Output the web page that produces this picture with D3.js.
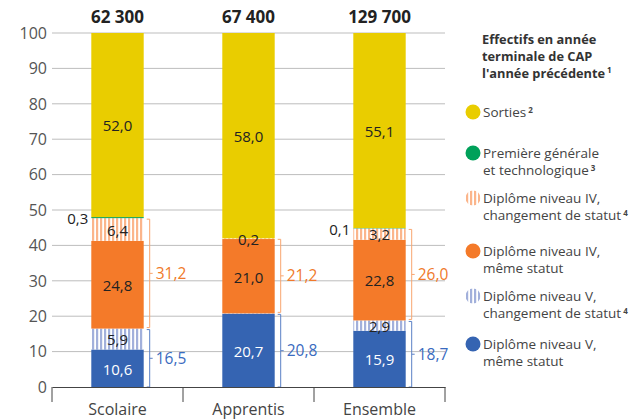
<!DOCTYPE html>
<html><head><meta charset="utf-8">
<script src="https://cdn.jsdelivr.net/npm/d3@7"></script>
<style>
html,body{margin:0;padding:0;background:#fff;}
svg{display:block;font-family:"Open Sans",sans-serif;}
</style></head>
<body><svg id="c" width="636" height="419"></svg>
<script>
// ---- data ----
const categories = ["Scolaire", "Apprentis", "Ensemble"];
const totals = ["62 300", "67 400", "129 700"];
const vMeme = [10.6, 20.7, 15.9];
const vChange = [5.9, 0.1, 2.9];
const ivMeme = [24.8, 21.0, 22.8];
const ivChange = [6.4, 0.2, 3.2];
const premiere = [0.3, 0.0, 0.1];
const sorties = [52.0, 58.0, 55.1];
const bracketV = [16.5, 20.8, 18.7];
const bracketIV = [31.2, 21.2, 26.0];
const yTicks = [0, 10, 20, 30, 40, 50, 60, 70, 80, 90, 100];
const seriesKeys = ["vMeme", "vChange", "ivMeme", "ivChange", "premiere", "sorties"];
const seriesValues = {vMeme, vChange, ivMeme, ivChange, premiere, sorties};
const legendTitle = ["Effectifs en année", "terminale de CAP", "l'année précédente"];
const legendItems = [
  {key: "sorties", lines: ["Sorties"], sup: "2"},
  {key: "premiere", lines: ["Première générale", "et technologique"], sup: "3"},
  {key: "ivChange", lines: ["Diplôme niveau IV,", "changement de statut"], sup: "4"},
  {key: "ivMeme", lines: ["Diplôme niveau IV,", "même statut"], sup: ""},
  {key: "vChange", lines: ["Diplôme niveau V,", "changement de statut"], sup: "4"},
  {key: "vMeme", lines: ["Diplôme niveau V,", "même statut"], sup: ""}
];

// ---- styles ----
const colors = {
  sorties: "#e9cd00", premiere: "#00a15a", ivChange: "url(#pIV)",
  ivMeme: "#f47a29", vChange: "url(#pV)", vMeme: "#3564b2"
};
const labelColor = {sorties:"#222", premiere:"#222", ivChange:"#222", ivMeme:"#222", vChange:"#222", vMeme:"#fff"};

const svg = d3.select("#c");
const defs = svg.append("defs");
function stripe(id, col) {
  const p = defs.append("pattern").attr("id", id).attr("patternUnits", "userSpaceOnUse")
    .attr("width", 4).attr("height", 4);
  p.append("rect").attr("width", 4).attr("height", 4).attr("fill", "#fff");
  p.append("rect").attr("width", 2.2).attr("height", 4).attr("fill", col);
}
stripe("pIV", "#fbb58b");
stripe("pV", "#a2b0db");

const x = d3.scaleBand().domain(categories).range([52, 445]).padding(0);
const barW = x.bandwidth() * 0.4;
const y = d3.scaleLinear().domain([0, 100]).range([387, 33]);

// grid
svg.append("g").selectAll("line").data(yTicks.filter(d => d > 0)).join("line")
  .attr("x1", 52).attr("x2", 445).attr("y1", d => y(d)).attr("y2", d => y(d))
  .attr("stroke", "#bdbdbd").attr("stroke-width", 1);

// y labels
svg.append("g").selectAll("text").data(yTicks).join("text")
  .attr("x", 47).attr("y", d => y(d)).attr("dy", "0.36em").attr("text-anchor", "end")
  .attr("font-size", 16).attr("fill", "#555").text(d => d);

// stack
const rows = categories.map((c, i) => {
  const r = {cat: c};
  seriesKeys.forEach(k => r[k] = seriesValues[k][i]);
  return r;
});
const stacked = d3.stack().keys(seriesKeys)(rows);
const bars = svg.append("g");
stacked.forEach(s => {
  bars.append("g").selectAll("rect").data(s).join("rect")
    .attr("x", d => x(d.data.cat) + (x.bandwidth() - barW) / 2)
    .attr("width", barW)
    .attr("y", d => y(d[1]))
    .attr("height", d => Math.max(0, y(d[0]) - y(d[1])))
    .attr("fill", colors[s.key]);
});

// value labels
const fmt = v => v.toFixed(1).replace(".", ",");
stacked.forEach(s => {
  s.forEach(d => {
    const v = d[1] - d[0];
    const cx = x(d.data.cat) + x.bandwidth() / 2;
    const cy = y((d[0] + d[1]) / 2);
    if (s.key === "premiere") {
      if (v > 0.05) {
        svg.append("text").attr("x", cx - barW / 2 - 3).attr("y", cy + 1).attr("dy", "0.36em")
          .attr("text-anchor", "end").attr("font-size", 15).attr("fill", "#222")
          .attr("font-weight", 500).text(fmt(v));
      }
    } else if (v >= 0.15) {
      svg.append("text").attr("x", cx).attr("y", cy + 1).attr("dy", "0.36em")
        .attr("text-anchor", "middle").attr("font-size", 15).attr("fill", labelColor[s.key])
        .attr("font-weight", 500).text(fmt(v));
    }
  });
});

// brackets
function bracket(cat, v0, v1, val, lineCol, txtCol) {
  const bx = x(cat) + (x.bandwidth() + barW) / 2 + 6;
  const yt = y(v1) + 1, yb = y(v0) - (v0 === 0 ? 0 : 1);
  const ym = (yt + yb) / 2;
  const g = svg.append("g").attr("fill", "none").attr("stroke", lineCol).attr("stroke-width", 1);
  g.append("path").attr("d", `M${bx - 3},${yt}H${bx}V${yb}H${bx - 3}M${bx},${ym}H${bx + 3}`);
  svg.append("text").attr("x", bx + 6).attr("y", ym).attr("dy", "0.36em")
    .attr("font-size", 15.5).attr("fill", txtCol).text(fmt(val));
}
categories.forEach((c, i) => {
  const vTop = vMeme[i] + vChange[i];
  const ivTop = vTop + ivMeme[i] + ivChange[i];
  bracket(c, 0, vTop, bracketV[i], "#5a80c6", "#3a6bc0");
  bracket(c, vTop, ivTop, bracketIV[i], "#f8a56f", "#f07a2a");
});

// totals
svg.append("g").selectAll("text").data(categories).join("text")
  .attr("x", d => x(d) + x.bandwidth() / 2).attr("y", 23).attr("text-anchor", "middle")
  .attr("font-size", 17).attr("font-weight", 700).attr("fill", "#222")
  .text((d, i) => totals[i]);

// x axis
const xa = svg.append("g").attr("transform", "translate(0,387)")
  .call(d3.axisBottom(x).tickSize(0).tickFormat(""));
xa.select(".domain").attr("stroke", "#444");
svg.append("g").selectAll("line").data([52, ...categories.map(c => x(c) + x.bandwidth())]).join("line")
  .attr("x1", d => d).attr("x2", d => d).attr("y1", 387).attr("y2", 402)
  .attr("stroke", "#444");
svg.append("g").selectAll("text").data(categories).join("text")
  .attr("x", d => x(d) + x.bandwidth() / 2).attr("y", 415).attr("text-anchor", "middle")
  .attr("font-size", 16).attr("fill", "#444").text(d => d);

// legend
const lg = svg.append("g").attr("transform", "translate(482,0)");
legendTitle.forEach((t, i) => {
  const tt = lg.append("text").attr("font-size", 12.8).attr("font-weight", 700).attr("fill", "#333")
    .attr("x", 0).attr("y", 44 + i * 17).text(t);
  if (i === legendTitle.length - 1)
    tt.append("tspan").attr("font-size", 8).attr("dx", 2).attr("dy", -5).text("1");
});

const itemY = [112, 153, 198, 251, 296, 344];
legendItems.forEach((it, i) => {
  const yy = itemY[i];
  lg.append("circle").attr("cx", -9).attr("cy", yy).attr("r", 7.5).attr("fill", colors[it.key]);
  it.lines.forEach((l, j) => {
    const t = lg.append("text").attr("font-size", 13.5).attr("fill", "#444")
      .attr("x", 1).attr("y", yy + j * 17).attr("dy", "0.36em").text(l);
    if (it.sup && j === it.lines.length - 1)
      t.append("tspan").attr("font-size", 8).attr("font-weight", 700).attr("dx", 2).attr("dy", "-0.5em").text(it.sup);
  });
});
</script></body></html>
